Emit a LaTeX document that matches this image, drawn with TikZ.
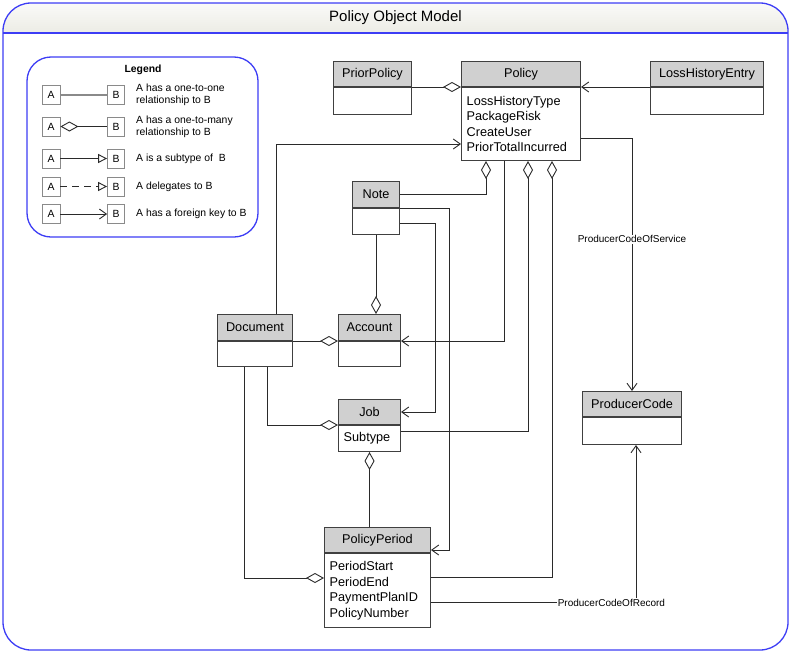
\documentclass[tikz,border=0pt]{standalone}
\usepackage{fontspec}
\setmainfont{Liberation Sans}
\usetikzlibrary{arrows.meta,calc}

\definecolor{frameblue}{HTML}{3D3DF5}
\definecolor{hdrfill}{HTML}{D0D0D0}
\definecolor{boxline}{HTML}{404040}
\definecolor{wirecol}{HTML}{2A2A2A}
\definecolor{titletop}{HTML}{FAFAF8}
\definecolor{titlebot}{HTML}{ECECE5}
\definecolor{lgline}{HTML}{8A8A8A}

\tikzset{
  hdr/.style={draw=boxline, fill=hdrfill, line width=1pt, inner sep=0pt,
    anchor=north west, font=\fontsize{12.7}{15}\selectfont},
  bodybox/.style={draw=boxline, fill=white, line width=1pt, inner sep=0pt,
    anchor=north west},
  attrs/.style={anchor=west, inner sep=0pt, align=left,
    font=\fontsize{12.7}{15.5}\selectfont},
  wire/.style={draw=wirecol, line width=0.9pt},
  agg/.style={wire, {Diamond[open,length=18pt,width=10pt]}-},
  fkey/.style={wire, -{Straight Barb[length=7pt,width=10pt]}},
  subtype/.style={wire, -{Triangle[open,length=9pt,width=9pt]}},
  lbl/.style={fill=white, inner sep=1pt, font=\fontsize{10}{12}\selectfont},
  lgbox/.style={draw=lgline, fill=white, line width=0.8pt, minimum height=19pt,
    inner sep=0pt, font=\fontsize{10.4}{12}\selectfont},
  lgtext/.style={anchor=west, inner sep=0pt, align=left,
    font=\fontsize{10.4}{12.2}\selectfont},
  panel/.style={draw=frameblue, line width=1.3pt},
}

% class box: name, x, y, width, header height, body height, title, attributes
\newcommand\umlclass[8]{%
  \node[hdr, minimum width=#4pt, minimum height=#5pt] (#1H) at (#2,#3) {#7};
  \node[bodybox, minimum width=#4pt, minimum height=#6pt] (#1B) at (#1H.south west) {};
  \node[attrs] (#1A) at ($(#1B.west)+(5.5,0)$) {#8};
}

\begin{document}
\begin{tikzpicture}[x=1pt, y=-1pt]
\useasboundingbox (0,0) rectangle (791,653);

% outer panel with its title band
\begin{scope}
  \clip[rounded corners=28pt] (3,3) rectangle (788,650);
  \shade[top color=titletop, bottom color=titlebot] (3,3) rectangle (788,33);
\end{scope}
\draw[panel, rounded corners=28pt] (3,3) rectangle (788,650);
\draw[panel] (3,33) -- (788,33);
\node[font=\fontsize{15}{17}\selectfont] (title) at (395.5,18) {Policy Object Model};

% legend
\draw[panel, fill=white, rounded corners=24pt] (27,57) rectangle (258,237);
\node[font=\bfseries\fontsize{10.4}{12}\selectfont] (legendTitle) at (143,70) {Legend};

\node[lgbox, minimum width=18pt] (lgA1) at (51,95) {A};
\node[lgbox, minimum width=17pt] (lgB1) at (116,95) {B};
\draw[draw=lgline, line width=1.4pt] (lgA1) -- (lgB1);
\node[lgtext] (lgT1) at (136,95) {A has a one-to-one\\relationship to B};

\node[lgbox, minimum width=18pt] (lgA2) at (51,126.5) {A};
\node[lgbox, minimum width=17pt] (lgB2) at (116,126.5) {B};
\draw[agg] (lgA2) -- (lgB2);
\node[lgtext] (lgT2) at (136,126.5) {A has a one-to-many\\relationship to B};

\node[lgbox, minimum width=18pt] (lgA3) at (51,158.5) {A};
\node[lgbox, minimum width=17pt] (lgB3) at (116,158.5) {B};
\draw[subtype] (lgA3) -- (lgB3);
\node[lgtext] (lgT3) at (136,158.5) {A is a subtype of~ B};

\node[lgbox, minimum width=18pt] (lgA4) at (51,186.5) {A};
\node[lgbox, minimum width=17pt] (lgB4) at (116,186.5) {B};
\draw[subtype, dash pattern=on 7pt off 5pt] (lgA4) -- (lgB4);
\node[lgtext] (lgT4) at (136,186.5) {A delegates to B};

\node[lgbox, minimum width=18pt] (lgA5) at (51,214) {A};
\node[lgbox, minimum width=17pt] (lgB5) at (116,214) {B};
\draw[fkey] (lgA5) -- (lgB5);
\node[lgtext] (lgT5) at (136,214) {A has a foreign key to B};

% classes
\umlclass{prior}{333}{61}{78}{25}{27}{PriorPolicy}{}
\umlclass{policy}{461}{61}{119}{25}{73}{Policy}{LossHistoryType\\PackageRisk\\CreateUser\\PriorTotalIncurred}
\umlclass{loss}{650}{61}{113}{25}{27}{LossHistoryEntry}{}
\umlclass{note}{352}{181}{47}{26}{26}{Note}{}
\umlclass{doc}{217}{314}{75}{26}{25}{Document}{}
\umlclass{acc}{338}{314}{62}{26}{25}{Account}{}
\umlclass{job}{338}{399}{62}{25}{26}{Job}{Subtype}
\umlclass{pp}{324}{527}{106}{25}{74}{PolicyPeriod}{PeriodStart\\PeriodEnd\\PaymentPlanID\\PolicyNumber}
\umlclass{prod}{582}{391}{99}{25}{27}{ProducerCode}{}

% associations
\draw[agg] (policyH.south west) -- (priorH.south east);
\draw[fkey] (lossH.south west) -- (policyH.south east);

\draw[fkey] ($(policyB.south east)+(0,-23)$) -| (prodH.north)
  node[lbl, pos=0.7] (lblService) {ProducerCodeOfService};
\draw[fkey] ($(ppB.east)+(0,12)$) -| ($(prodB.south)+(4,0)$)
  node[lbl, pos=0.44] (lblRecord) {ProducerCodeOfRecord};

\draw[agg] ($(policyB.south west)+(25,0)$) |- (noteH.east);
\draw[fkey] (noteH.south east) -| ($(ppH.south east)+(18,-3)$) -- ($(ppH.south east)+(0,-3)$);
\draw[fkey] ($(noteB.east)+(0,2)$) -| ($(jobH.east)+(34,0)$) -- (jobH.east);
\draw[agg] (noteB.south |- accH.north) -- (noteB.south);

\draw[fkey] ($(policyB.south west)+(43,0)$) |- (accH.south east);
\draw[agg] ($(policyB.south west)+(67,0)$) |- ($(jobB.north east)+(0,6)$);
\draw[agg] ($(policyB.south west)+(91,0)$) |- ($(ppB.north east)+(0,24)$);

\draw[fkey] ($(docH.north west)+(59,0)$) |- ($(policyB.south west)+(0,-17)$);
\draw[agg] (accH.south west) -- (docH.south east);
\draw[agg] (jobH.south west) -| ($(docB.south west)+(50,0)$);
\draw[agg] ($(ppB.north west)+(0,25)$) -| ($(docB.south west)+(27,0)$);
\draw[agg] (jobB.south) -- (jobB.south |- ppH.north);

\end{tikzpicture}
\end{document}
